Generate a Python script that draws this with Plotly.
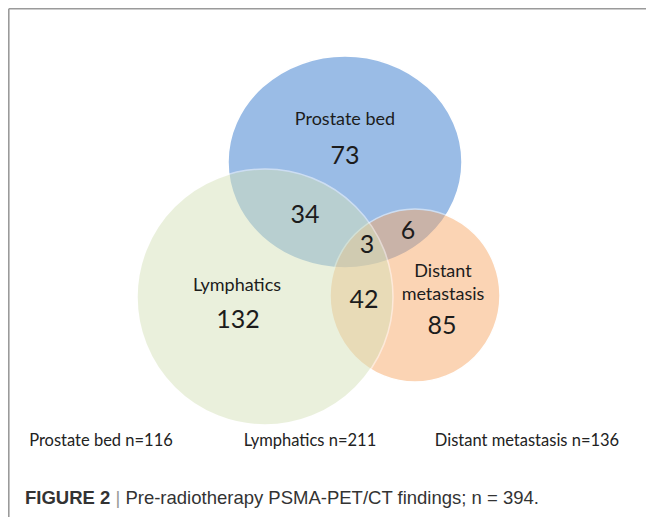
import plotly.graph_objects as go

# ---- data ----
set_names = ["Prostate bed", "Lymphatics", "Distant<br>metastasis"]
set_only_counts = [73, 132, 85]
pair_names = ["Prostate bed & Lymphatics", "Prostate bed & Distant", "Lymphatics & Distant"]
pair_counts = [34, 6, 42]
triple_count = 3
total_labels = ["Prostate bed", "Lymphatics", "Distant metastasis"]
total_counts = [116, 211, 136]
caption_bold = "FIGURE 2"
caption_text = "Pre-radiotherapy PSMA-PET/CT findings; n = 394."

W, H = 654, 517
OFF = 8  # page body margin: map axis units to screen pixels
fig = go.Figure()

# circles (screen pixel coordinates) drawn in order: blue, orange, green
circles = [
    dict(x0=228, x1=462, y0=56, y1=268, color="#377bcf"),   # Prostate bed
    dict(x0=330, x1=500, y0=209, y1=382, color="#f9ab6b"),  # Distant metastasis
    dict(x0=137, x1=393, y0=169, y1=425, color="#d7e3bb"),  # Lymphatics
]
for c in circles:
    fig.add_shape(type="circle", xref="x", yref="y",
                  x0=c["x0"], x1=c["x1"], y0=c["y0"], y1=c["y1"],
                  fillcolor=c["color"], opacity=0.5,
                  line=dict(color="white", width=1.5), layer="below")

# border lines
fig.add_shape(type="line", xref="x", yref="y", x0=8.8, x1=W + OFF, y0=8.8, y1=8.8,
              line=dict(color="#9a9a9a", width=1.6))
fig.add_shape(type="line", xref="x", yref="y", x0=8.8, x1=8.8, y0=8.8, y1=H + OFF,
              line=dict(color="#9a9a9a", width=1.6))

vfont = "Lato, 'Open Sans', sans-serif"
tcol = "#1c1c1c"

# set name labels
name_pos = [(345, 120), (237, 286), (443, 284)]
fig.add_trace(go.Scatter(
    x=[p[0] for p in name_pos], y=[p[1] for p in name_pos],
    mode="text", text=set_names,
    textfont=dict(family=vfont, size=18, color=tcol),
    hoverinfo="skip", showlegend=False))

# counts
count_pos = [(345, 158), (238, 322), (442, 328), (305, 217), (408, 233), (364, 302), (367, 247)]
count_vals = set_only_counts + pair_counts + [triple_count]
fig.add_trace(go.Scatter(
    x=[p[0] for p in count_pos], y=[p[1] for p in count_pos],
    mode="text", text=[str(v) for v in count_vals],
    textfont=dict(family=vfont, size=25, color=tcol),
    hoverinfo="skip", showlegend=False))

# totals
tot_pos = [(101, 442), (310, 442), (527, 442)]
fig.add_trace(go.Scatter(
    x=[p[0] for p in tot_pos], y=[p[1] for p in tot_pos],
    mode="text", text=[f"{n} n={v}" for n, v in zip(total_labels, total_counts)],
    textfont=dict(family=vfont, size=16.5, color="#222222"),
    hoverinfo="skip", showlegend=False))

fig.add_annotation(
    x=23, y=497, xref="x", yref="y", xanchor="left", yanchor="middle",
    text=f"<b>{caption_bold}</b> <span style='color:#999'>|</span> {caption_text}",
    showarrow=False,
    font=dict(family="'Liberation Sans', Arial, sans-serif",
              size=18.5, color="#333333"))

fig.update_layout(
    width=W, height=H, autosize=False,
    margin=dict(l=0, r=0, t=0, b=0),
    paper_bgcolor="white", plot_bgcolor="white",
    xaxis=dict(range=[OFF, W + OFF], visible=False, fixedrange=True),
    yaxis=dict(range=[H + OFF, OFF], visible=False, fixedrange=True),
)

fig.write_html("out.html")
